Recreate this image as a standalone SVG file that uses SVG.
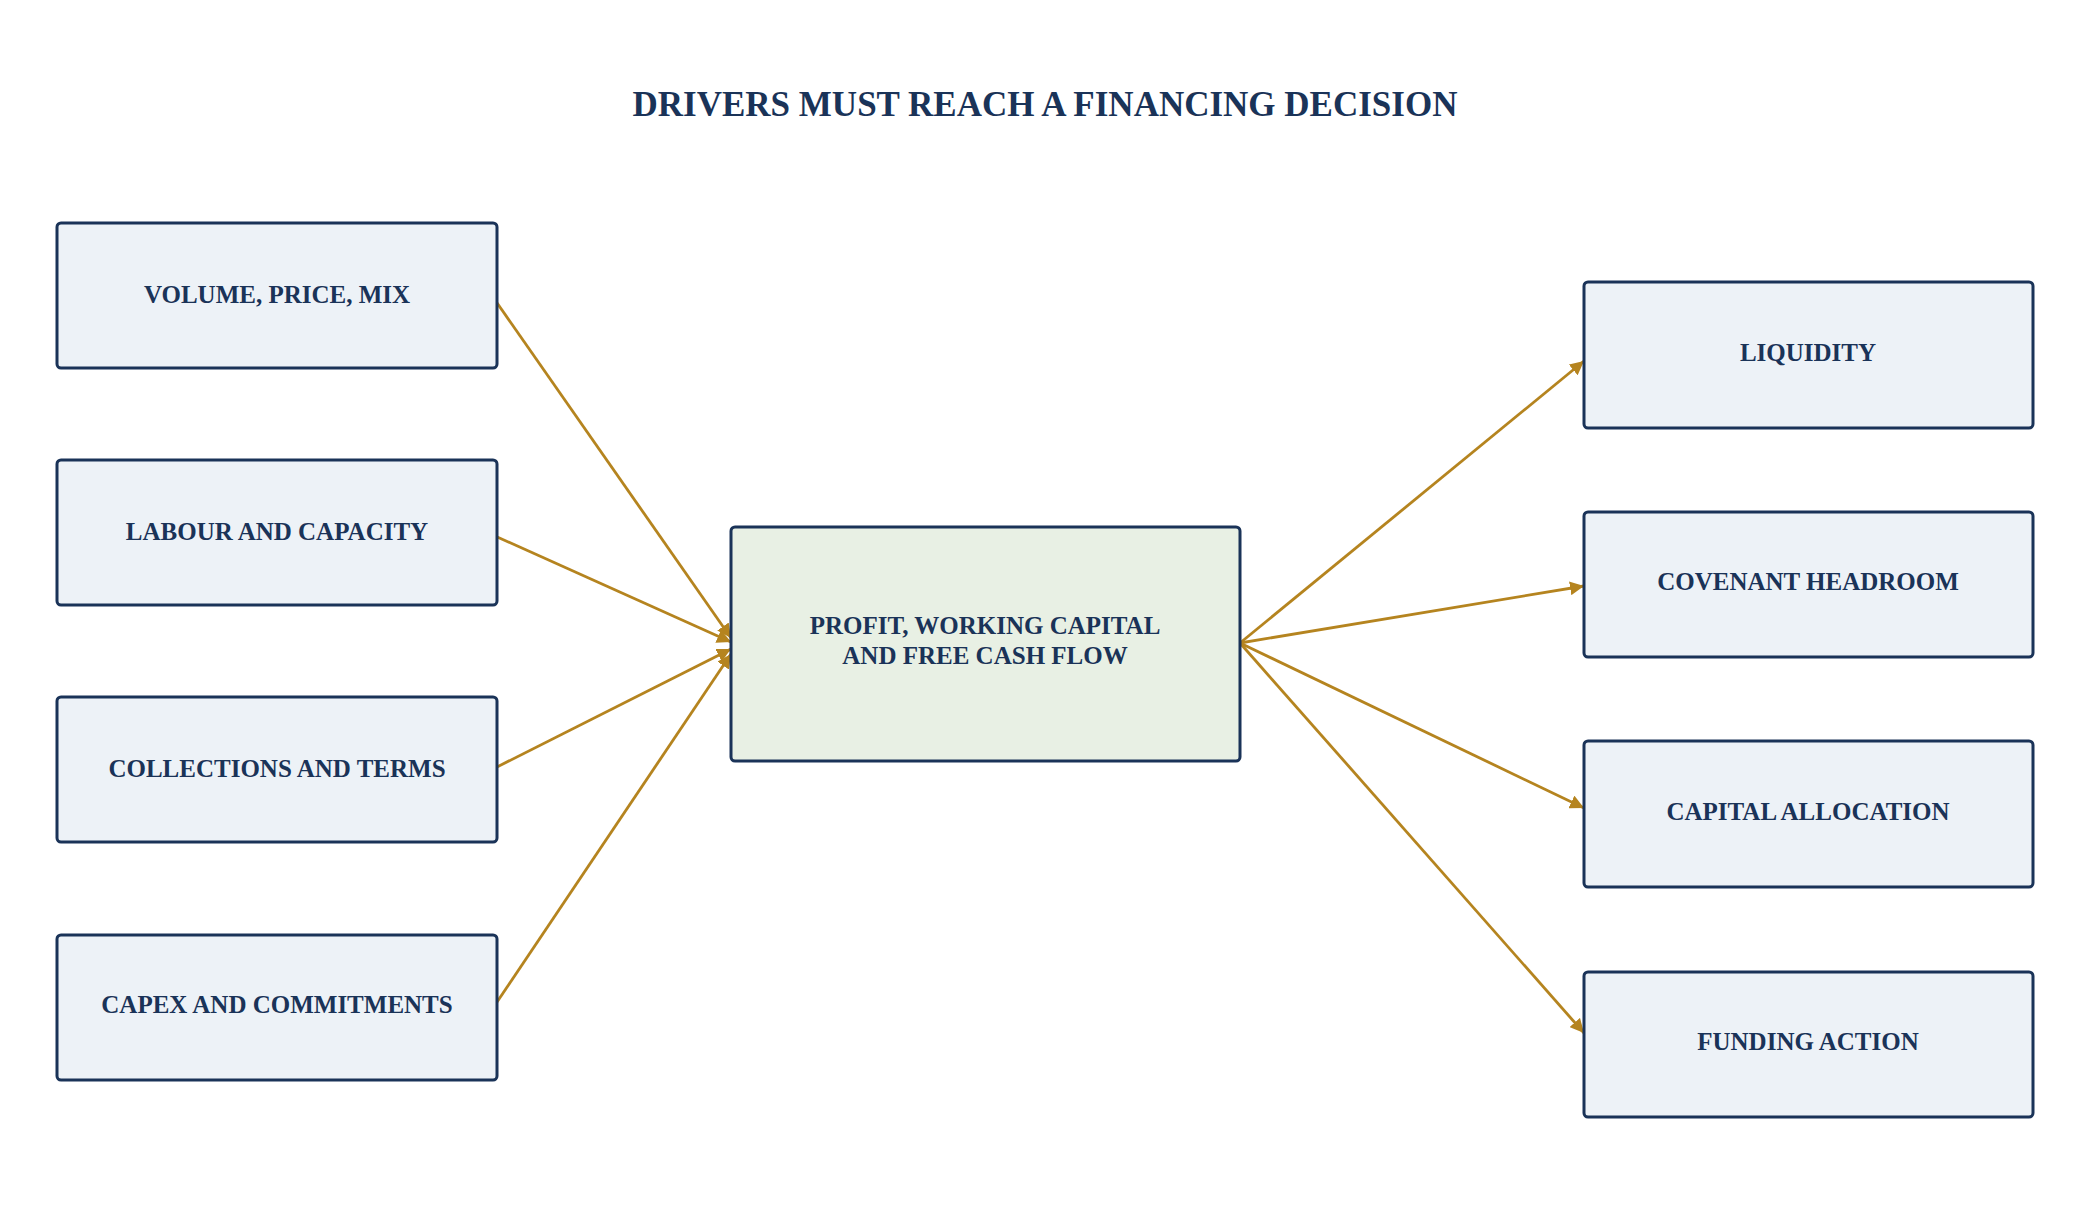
<svg xmlns="http://www.w3.org/2000/svg" width="2090" height="1229" viewBox="0 0 2090 1229">
<style>
.n rect{fill:#edf2f7;stroke:#1a3358;stroke-width:3}
.c rect{fill:#e8f0e4}
text{font-family:"Liberation Serif",serif;font-weight:bold;fill:#1a3358;text-anchor:middle}
.t{font-size:25px}
.e line{stroke:#b5841f;stroke-width:2.8;marker-end:url(#a)}
</style>
<defs><marker id="a" viewBox="0 0 10 10" refX="10" refY="5" markerWidth="5" markerHeight="5" orient="auto"><path d="M0,0L10,5L0,10z" fill="#b5841f"/></marker></defs>
<rect width="2090" height="1229" fill="#fff"/>
<text x="1045" y="116" font-size="35">DRIVERS MUST REACH A FINANCING DECISION</text>
<g class="e">
<line x1="495" y1="300" x2="731" y2="638"/>
<line x1="495" y1="536" x2="731" y2="642"/>
<line x1="495" y1="768" x2="731" y2="649"/>
<line x1="495" y1="1005" x2="731" y2="654"/>
<line x1="1240" y1="643" x2="1584" y2="361"/>
<line x1="1240" y1="643" x2="1584" y2="586"/>
<line x1="1240" y1="643" x2="1584" y2="808"/>
<line x1="1240" y1="643" x2="1584" y2="1033"/>
</g>
<g id="n1" class="n"><rect x="57" y="223" width="440" height="145" rx="4"/><text class="t" x="277" y="303">VOLUME, PRICE, MIX</text></g>
<g id="n2" class="n"><rect x="57" y="460" width="440" height="145" rx="4"/><text class="t" x="277" y="540">LABOUR AND CAPACITY</text></g>
<g id="n3" class="n"><rect x="57" y="697" width="440" height="145" rx="4"/><text class="t" x="277" y="777">COLLECTIONS AND TERMS</text></g>
<g id="n4" class="n"><rect x="57" y="935" width="440" height="145" rx="4"/><text class="t" x="277" y="1013">CAPEX AND COMMITMENTS</text></g>
<g id="c" class="n c"><rect x="731" y="527" width="509" height="234" rx="4"/><text class="t" x="985" y="634">PROFIT, WORKING CAPITAL</text><text class="t" x="985" y="664">AND FREE CASH FLOW</text></g>
<g id="r1" class="n"><rect x="1584" y="282" width="449" height="146" rx="4"/><text class="t" x="1808" y="361">LIQUIDITY</text></g>
<g id="r2" class="n"><rect x="1584" y="512" width="449" height="145" rx="4"/><text class="t" x="1808" y="590">COVENANT HEADROOM</text></g>
<g id="r3" class="n"><rect x="1584" y="741" width="449" height="146" rx="4"/><text class="t" x="1808" y="820">CAPITAL ALLOCATION</text></g>
<g id="r4" class="n"><rect x="1584" y="972" width="449" height="145" rx="4"/><text class="t" x="1808" y="1050">FUNDING ACTION</text></g>
</svg>
